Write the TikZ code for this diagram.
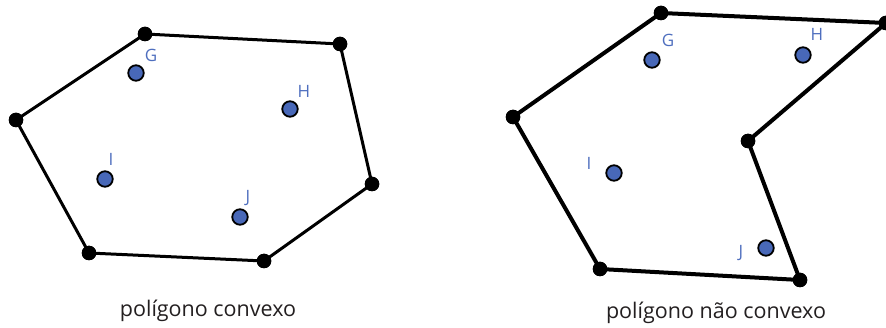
\documentclass[tikz,border=0pt]{standalone}
\usepackage{fontspec}
\setmainfont{Open Sans}
\definecolor{ptblue}{RGB}{72,104,184}
\definecolor{lblblue}{RGB}{78,110,190}
\definecolor{capgray}{RGB}{35,31,32}
\begin{document}
\begin{tikzpicture}[x=1pt,y=-1pt,
  vtx/.style={circle,fill=black,inner sep=0pt,minimum size=14.5pt},
  pt/.style={circle,fill=ptblue,draw=black,line width=1.8pt,inner sep=0pt,minimum size=15.5pt},
  lbl/.style={text=lblblue,font=\fontsize{17}{19}\selectfont,inner sep=0pt},
  captxt/.style={text=capgray,font=\fontsize{21.5}{24}\selectfont,inner sep=0pt},
  edgeA/.style={line width=3pt,line join=round},
  edgeB/.style={line width=4pt,line join=round}]
\useasboundingbox (0,0) rectangle (886,328);
% left polygon
\node[vtx] (a1) at (145,34) {};
\node[vtx] (a2) at (340,44) {};
\node[vtx] (a3) at (372,184) {};
\node[vtx] (a4) at (264,261) {};
\node[vtx] (a5) at (89,253) {};
\node[vtx] (a6) at (16,120) {};
\draw[edgeA] (a1.center) -- (a2.center) -- (a3.center) -- (a4.center) -- (a5.center) -- (a6.center) -- cycle;
\foreach \n in {a1,a2,a3,a4,a5,a6} \node[vtx] at (\n) {};
\node[pt] (gA) at (136,73) {};
\node[pt] (hA) at (290,109) {};
\node[pt] (iA) at (105,179) {};
\node[pt] (jA) at (240,217) {};
\node[lbl] (gAl) at (151,55) {G};
\node[lbl] (hAl) at (304,91) {H};
\node[lbl] (iAl) at (111,159) {I};
\node[lbl] (jAl) at (248,198) {J};
\node[captxt] (capA) at (208,311) {polígono convexo};
% right polygon
\node[vtx] (b1) at (661,13) {};
\node[vtx] (b2) at (886,23) {};
\node[vtx] (b3) at (748,141) {};
\node[vtx] (b4) at (800,280) {};
\node[vtx] (b5) at (600,269) {};
\node[vtx] (b6) at (513,117) {};
\draw[edgeB] (b1.center) -- (b2.center) -- (b3.center) -- (b4.center) -- (b5.center) -- (b6.center) -- cycle;
\foreach \n in {b1,b2,b3,b4,b5,b6} \node[vtx] at (\n) {};
\node[pt] (gB) at (652,60) {};
\node[pt] (hB) at (803,55) {};
\node[pt] (iB) at (614,173) {};
\node[pt] (jB) at (766,248) {};
\node[lbl] (gBl) at (668,40) {G};
\node[lbl] (hBl) at (817,34) {H};
\node[lbl] (iBl) at (589,163) {I};
\node[lbl] (jBl) at (741,253) {J};
\node[captxt] (capB) at (716,313) {polígono não convexo};
\end{tikzpicture}
\end{document}
